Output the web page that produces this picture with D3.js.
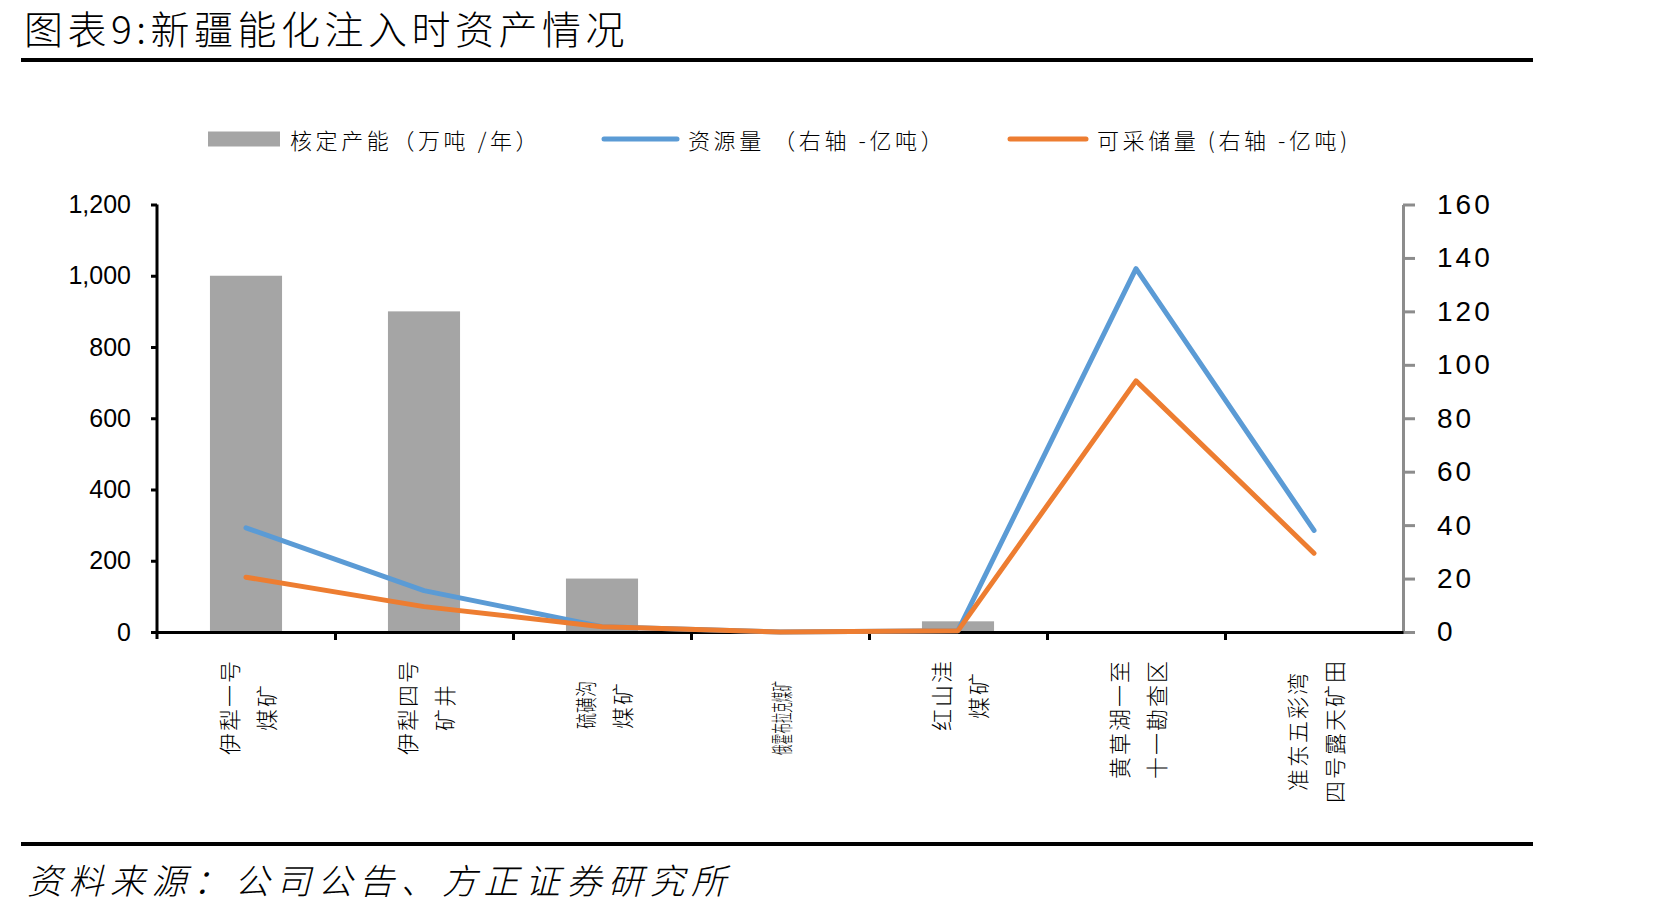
<!DOCTYPE html>
<html>
<head>
<meta charset="utf-8">
<script src="https://cdn.jsdelivr.net/npm/d3@7"></script>
<style>
  html, body { margin: 0; padding: 0; background: #fff; }
  svg { display: block; }
  .cjk { font-family: "Noto Sans CJK SC", "Noto Sans", sans-serif; }
  .num { font-family: "Liberation Sans", Arial, sans-serif; }
</style>
</head>
<body>
<div id="chart"></div>
<script>
// chart data
const categories = ['伊犁一号煤矿', '伊犁四号矿井', '硫磺沟煤矿', '俄霍布拉克煤矿', '红山洼煤矿', '黄草湖一至十一勘查区', '准东五彩湾四号露天矿田'];
const labelLines = [['伊犁一号', '煤矿'], ['伊犁四号', '矿井'], ['硫磺沟', '煤矿'], ['俄霍布拉克煤矿'], ['红山洼', '煤矿'], ['黄草湖一至', '十一勘查区'], ['准东五彩湾', '四号露天矿田']];
const capacity = [1000, 900, 150, 0, 30, 0, 0];        // 万吨/年, left axis
const resources = [39, 15.5, 2, 0, 0.5, 136, 38];      // 亿吨, right axis
const reserves = [20.5, 9.5, 2, 0, 0.5, 94, 29.5];     // 亿吨, right axis
const leftTicks = [0, 200, 400, 600, 800, 1000, 1200];
const rightTicks = [0, 20, 40, 60, 80, 100, 120, 140, 160];

const W = 1671, H = 915;
const plot = { left: 157, right: 1403, top: 204.5, bottom: 632 };

const svg = d3.select('#chart').append('svg')
    .attr('width', W)
    .attr('height', H);

// title + rules
svg.append('text')
    .attr('class', 'cjk')
    .attr('x', 24)
    .attr('y', 44)
    .attr('font-size', 39)
    .attr('font-weight', 300)
    .attr('letter-spacing', 4.5)
    .attr('fill', '#000')
    .text('图表9:新疆能化注入时资产情况');

svg.append('line')
    .attr('x1', 21).attr('x2', 1533)
    .attr('y1', 60).attr('y2', 60)
    .attr('stroke', '#000').attr('stroke-width', 4);

svg.append('line')
    .attr('x1', 21).attr('x2', 1533)
    .attr('y1', 844).attr('y2', 844)
    .attr('stroke', '#000').attr('stroke-width', 4);

svg.append('text')
    .attr('class', 'cjk')
    .attr('x', 27)
    .attr('y', 894)
    .attr('font-size', 35)
    .attr('font-weight', 300)
    .attr('font-style', 'italic')
    .attr('letter-spacing', 6.5)
    .attr('fill', '#000')
    .text('资料来源：公司公告、方正证券研究所');

// scales
const x = d3.scaleBand()
    .domain(categories)
    .range([plot.left, plot.right])
    .padding(0);

const xIdx = d3.scaleLinear()
    .domain([0, categories.length])
    .range([plot.left, plot.right]);

const yL = d3.scaleLinear().domain([0, 1200]).range([plot.bottom, plot.top]);
const yR = d3.scaleLinear().domain([0, 160]).range([plot.bottom, plot.top]);

// bars
const barW = x.bandwidth() * 0.405;
svg.append('g')
    .selectAll('rect')
    .data(capacity)
    .join('rect')
    .attr('x', (d, i) => x(categories[i]) + (x.bandwidth() - barW) / 2)
    .attr('width', barW)
    .attr('y', d => yL(d))
    .attr('height', d => plot.bottom - yL(d))
    .attr('fill', '#a5a5a5');

// left axis
const gL = svg.append('g')
    .attr('transform', `translate(${plot.left},0)`)
    .call(d3.axisLeft(yL).tickValues(leftTicks).tickSize(6).tickSizeOuter(0).tickPadding(20).tickFormat(d3.format(',')));
gL.select('.domain').attr('stroke', '#000').attr('stroke-width', 3)
    .attr('d', `M0,${plot.top}V${plot.bottom + 7}`);
gL.selectAll('.tick line').attr('stroke', '#000').attr('stroke-width', 3);
gL.selectAll('.tick text')
    .attr('class', 'num')
    .attr('font-size', 25)
    .attr('fill', '#000');

// right axis
const gR = svg.append('g')
    .attr('transform', `translate(${plot.right},0)`)
    .call(d3.axisRight(yR).tickValues(rightTicks).tickSize(12).tickSizeOuter(0).tickPadding(22));
gR.select('.domain').attr('stroke', '#8c8c8c').attr('stroke-width', 3);
gR.selectAll('.tick line').attr('stroke', '#8c8c8c').attr('stroke-width', 3);
gR.selectAll('.tick text')
    .attr('class', 'num')
    .attr('font-size', 28)
    .attr('letter-spacing', 3)
    .attr('fill', '#000');

// bottom axis (category boundaries)
const gB = svg.append('g')
    .attr('transform', `translate(0,${plot.bottom})`)
    .call(d3.axisBottom(xIdx).tickValues(d3.range(1, categories.length)).tickSize(8).tickSizeOuter(0).tickFormat(''));
gB.select('.domain').attr('stroke', '#000').attr('stroke-width', 3);
gB.selectAll('.tick line').attr('stroke', '#000').attr('stroke-width', 3);

// category labels, rotated, two columns each
const pitch = 24, blockTop = 659, lineGap = 37;
const squeeze = { '硫磺沟': 48, '俄霍布拉克煤矿': 74 };
labelLines.forEach((lines, i) => {
    const cx = x(categories[i]) + x.bandwidth() / 2;
    const hasSqueeze = lines.some(s => squeeze[s]);
    const maxLen = d3.max(lines, s => squeeze[s] || s.length * pitch);
    const cy = blockTop + maxLen / 2 + (hasSqueeze ? 22 : 0);
    lines.forEach((s, j) => {
        const lx = cx + (j - (lines.length - 1) / 2) * lineGap;
        const t = svg.append('text')
            .attr('class', 'cjk')
            .attr('transform', `translate(${lx},${cy}) rotate(-90)`)
            .attr('text-anchor', 'middle')
            .attr('dominant-baseline', 'central')
            .attr('font-size', 22)
            .attr('font-weight', 300)
            .attr('fill', '#000')
            .text(s);
        if (squeeze[s]) {
            t.attr('textLength', squeeze[s]).attr('lengthAdjust', 'spacingAndGlyphs');
        } else {
            t.attr('letter-spacing', 2);
        }
    });
});

// lines on right axis
const line = d3.line()
    .x((d, i) => x(categories[i]) + x.bandwidth() / 2)
    .y(d => yR(d));

svg.append('path')
    .datum(resources)
    .attr('d', line)
    .attr('fill', 'none')
    .attr('stroke', '#5b9bd5')
    .attr('stroke-width', 5)
    .attr('stroke-linecap', 'round')
    .attr('stroke-linejoin', 'round');

svg.append('path')
    .datum(reserves)
    .attr('d', line)
    .attr('fill', 'none')
    .attr('stroke', '#ed7d31')
    .attr('stroke-width', 5)
    .attr('stroke-linecap', 'round')
    .attr('stroke-linejoin', 'round');

// legend
const legend = svg.append('g').attr('class', 'cjk');
const legY = 139;
legend.append('rect')
    .attr('x', 208).attr('y', legY - 7.5)
    .attr('width', 72).attr('height', 15)
    .attr('fill', '#a5a5a5');
legend.append('line')
    .attr('x1', 604).attr('x2', 677)
    .attr('y1', legY).attr('y2', legY)
    .attr('stroke', '#5b9bd5').attr('stroke-width', 5).attr('stroke-linecap', 'round');
legend.append('line')
    .attr('x1', 1010).attr('x2', 1086)
    .attr('y1', legY).attr('y2', legY)
    .attr('stroke', '#ed7d31').attr('stroke-width', 5).attr('stroke-linecap', 'round');

const legendText = [
    { x: 290, s: '核定产能（万吨 /年）' },
    { x: 688, s: '资源量 （右轴 -亿吨）' },
    { x: 1097, s: '可采储量 (右轴 -亿吨)' }
];
legend.selectAll('text')
    .data(legendText)
    .join('text')
    .attr('x', d => d.x)
    .attr('y', legY)
    .attr('dominant-baseline', 'central')
    .attr('font-size', 22)
    .attr('font-weight', 300)
    .attr('letter-spacing', 3.6)
    .attr('fill', '#000')
    .text(d => d.s);
</script>
</body>
</html>
